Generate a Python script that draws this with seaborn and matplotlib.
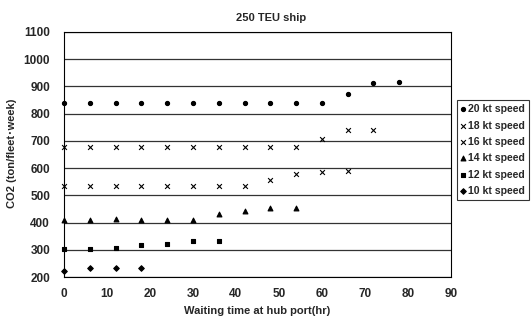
import matplotlib
matplotlib.use("Agg")
import matplotlib.pyplot as plt
import seaborn as sns
import pandas as pd

# Datos (tiempo de espera en horas, CO2 ton/fleet-week)
t_20 = [0, 6, 12, 18, 24, 30, 36, 42, 48, 54, 60, 66, 72, 78]
co2_20 = [838, 838, 838, 838, 838, 838, 838, 838, 838, 838, 838, 873, 914, 918]
t_18 = [0, 6, 12, 18, 24, 30, 36, 42, 48, 54, 60, 66, 72]
co2_18 = [678, 678, 678, 678, 678, 678, 678, 678, 678, 678, 707, 740, 742]
t_16 = [0, 6, 12, 18, 24, 30, 36, 42, 48, 54, 60, 66]
co2_16 = [535, 535, 535, 535, 535, 535, 535, 535, 558, 577, 586, 588]
t_14 = [0, 6, 12, 18, 24, 30, 36, 42, 48, 54]
co2_14 = [410, 410, 412, 410, 410, 410, 430, 441, 453, 453]
t_12 = [0, 6, 12, 18, 24, 30, 36]
co2_12 = [305, 305, 306, 318, 320, 333, 333]
t_10 = [0, 6, 12, 18]
co2_10 = [222, 233, 233, 233]

labels = ["20 kt speed", "18 kt speed", "16 kt speed",
          "14 kt speed", "12 kt speed", "10 kt speed"]
series_t = [t_20, t_18, t_16, t_14, t_12, t_10]
series_y = [co2_20, co2_18, co2_16, co2_14, co2_12, co2_10]

rows = []
for lab, ts, ys in zip(labels, series_t, series_y):
    for t, y in zip(ts, ys):
        rows.append({"t": t, "co2": y, "speed": lab})
df = pd.DataFrame(rows)

sns.set_style("white")
plt.rcParams['font.family'] = ['Liberation Sans', 'Noto Sans CJK JP', 'DejaVu Sans']
plt.rcParams['font.weight'] = 'bold'

fig = plt.figure(figsize=(5.31, 3.20), dpi=100)
ax = fig.add_axes([0.1205, 0.134, 0.7285, 0.766])

markers = {"20 kt speed": "o", "18 kt speed": "x", "16 kt speed": "x",
           "14 kt speed": "^", "12 kt speed": "s", "10 kt speed": "D"}
sizes = {"20 kt speed": 9, "18 kt speed": 12, "16 kt speed": 12,
         "14 kt speed": 12, "12 kt speed": 9, "10 kt speed": 8}

for lab in labels:
    sub = df[df["speed"] == lab]
    sns.scatterplot(data=sub, x="t", y="co2", ax=ax, marker=markers[lab],
                    s=sizes[lab], color="black", edgecolor="black",
                    linewidth=0.8, label=lab, clip_on=False, zorder=3)

ax.set_xlim(0, 90)
ax.set_ylim(200, 1100)
ax.set_xticks(range(0, 91, 10))
ax.set_yticks(range(200, 1101, 100))
ax.grid(axis="y", color="#333333", linewidth=0.9)
ax.grid(axis="x", visible=False)
for sp in ax.spines.values():
    sp.set_visible(True)
    sp.set_color("black")
    sp.set_linewidth(0.8)
ax.tick_params(axis="x", direction="in", length=3, width=0.8, labelsize=8.5, pad=8)
ax.tick_params(axis="y", length=0, labelsize=8.5, pad=10)
for lbl in ax.get_xticklabels() + ax.get_yticklabels():
    lbl.set_fontweight("bold")

fig.text(271 / 531, 1 - 18 / 320, "250 TEU ship", fontsize=8, fontweight="bold",
         ha="center", va="center")
ax.set_xlabel("Waiting time at hub port(hr)", fontsize=8, fontweight="bold", labelpad=4)
ax.set_ylabel("CO2 (ton/fleet･week)", fontsize=8, fontweight="bold")
ax.yaxis.set_label_coords(-0.121, 0.505)

leg = ax.legend(loc="upper left", bbox_to_anchor=(457 / 531, 1 - 100 / 320),
                bbox_transform=fig.transFigure, fontsize=7.6, frameon=True,
                fancybox=False, edgecolor="black", handlelength=0.3,
                handletextpad=0.35, borderpad=0.4, labelspacing=0.6,
                borderaxespad=0)
leg.get_frame().set_linewidth(0.8)
for txt in leg.get_texts():
    txt.set_fontweight("bold")

fig.savefig("out.png", dpi=100)
